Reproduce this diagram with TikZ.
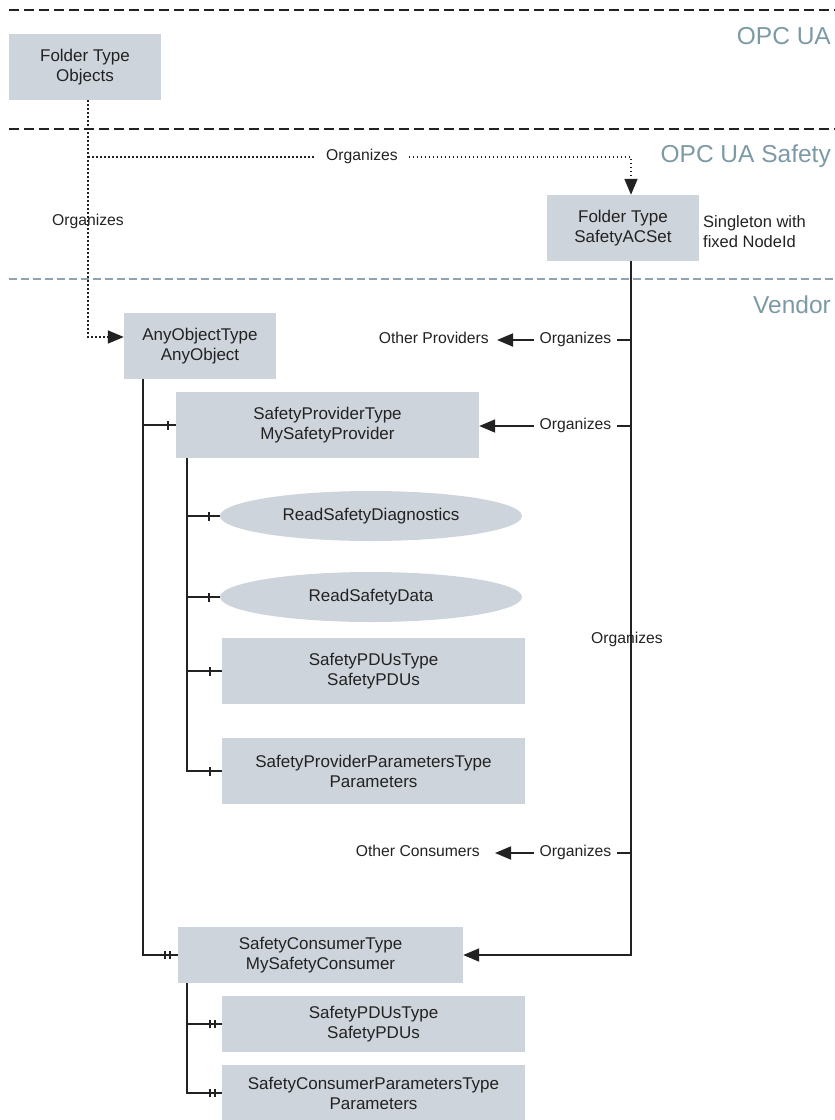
\documentclass[tikz,border=0pt]{standalone}
\usepackage{fontspec}
\setmainfont{Liberation Sans}
\usetikzlibrary{arrows.meta,decorations.markings,shapes.geometric}

\definecolor{boxfill}{HTML}{CED4DB}
\definecolor{layertext}{HTML}{7C9AA6}
\definecolor{vendorline}{HTML}{8FA4AE}
\definecolor{ink}{HTML}{222222}

\tikzset{
  box/.style={rectangle, fill=boxfill, inner sep=0pt, align=center, text=ink,
    font=\fontsize{17pt}{20pt}\selectfont},
  oval/.style={ellipse, fill=boxfill, inner sep=0pt, text=ink,
    minimum width=302pt, minimum height=50pt,
    font=\fontsize{17pt}{20pt}\selectfont},
  lbl/.style={text=ink, inner sep=0pt, text height=11pt, text depth=3.5pt,
    font=\fontsize{15.7pt}{19pt}\selectfont},
  layer/.style={text=layertext, anchor=base east, inner sep=0pt,
    font=\fontsize{24.5pt}{29pt}\selectfont},
  sepline/.style={line width=2pt, dash pattern=on 10pt off 5pt},
  tip/.style={-{Triangle[length=16pt,width=13pt]}},
  ref/.style={line width=1.8pt, draw=ink},
  dots/.style={line width=1.7pt, draw=ink, dash pattern=on 1.5pt off 2.5pt},
  onetick/.style={postaction={decorate}, decoration={markings,
    mark=at position #1 with {\draw[line width=1.6pt, ink] (0,-4.5pt) -- (0,4.5pt);}}},
  twotick/.style 2 args={postaction={decorate}, decoration={markings,
    mark=at position #1 with {\draw[line width=1.6pt, ink] (0,-4pt) -- (0,4pt);},
    mark=at position #2 with {\draw[line width=1.6pt, ink] (0,-4pt) -- (0,4pt);}}},
}

\begin{document}
\begin{tikzpicture}[x=1pt, y=-1pt]
  \useasboundingbox (0,0) rectangle (835,1120);

  % layer separators
  \draw[sepline, ink] (9,10) -- (835,10);
  \draw[sepline, ink] (9,129) -- (835,129);
  \draw[line width=2pt, dash pattern=on 8pt off 4pt, vendorline] (9,279) -- (835,279);

  % layer names
  \node[layer] (lyrua) at (831,44) {OPC UA};
  \node[layer] (lyrsafe) at (831,162) {OPC UA Safety};
  \node[layer] (lyrvend) at (831,313) {Vendor};

  % object nodes
  \node[box, minimum width=152pt, minimum height=66pt] (obj) at (85,67) {Folder Type\\Objects};
  \node[box, minimum width=152pt, minimum height=66pt] (acset) at (623,228) {Folder Type\\SafetyACSet};
  \node[anchor=west, align=left, inner sep=0pt, text=ink,
        font=\fontsize{16.5pt}{20pt}\selectfont] (single) at (703,232) {Singleton with\\fixed NodeId};
  \node[box, minimum width=152pt, minimum height=66pt] (any) at (200,346) {AnyObjectType\\AnyObject};
  \node[box, minimum width=303pt, minimum height=66pt] (prov) at (327.5,425) {SafetyProviderType\\MySafetyProvider};
  \node[oval] (rsd) at (371,516) {ReadSafetyDiagnostics};
  \node[oval] (rdata) at (371,597) {ReadSafetyData};
  \node[box, minimum width=303pt, minimum height=66pt] (pdua) at (373.5,671) {SafetyPDUsType\\SafetyPDUs};
  \node[box, minimum width=303pt, minimum height=66pt] (para) at (373.5,771) {SafetyProviderParametersType\\Parameters};
  \node[box, minimum width=285pt, minimum height=56pt] (cons) at (320.5,955) {SafetyConsumerType\\MySafetyConsumer};
  \node[box, minimum width=303pt, minimum height=56pt] (pdub) at (373.5,1024) {SafetyPDUsType\\SafetyPDUs};
  \node[box, minimum width=303pt, minimum height=56pt] (parb) at (373.5,1093) {SafetyConsumerParametersType\\Parameters};

  % reference labels
  \node[lbl] (ogleft) at (88,222) {Organizes};
  \node[lbl, inner xsep=11pt] (ogtop) at (362,157) {Organizes};
  \node[lbl, inner xsep=6pt] (ogprov) at (575.5,340) {Organizes};
  \node[lbl, inner xsep=6pt] (ogmine) at (575.5,426) {Organizes};
  \node[lbl] (ogright) at (627,640) {Organizes};
  \node[lbl, inner xsep=6pt] (ogcons) at (575.5,853) {Organizes};
  \node[lbl, anchor=east, inner xsep=8pt] (oprov) at (497,340) {Other Providers};
  \node[lbl, anchor=east, inner xsep=15pt] (ocons) at (495,853) {Other Consumers};

  % helper coordinates for the routing columns
  \coordinate (j1) at (88,157);
  \coordinate (j2) at (88,337);
  \coordinate (j3) at (631,157);
  \coordinate (rx) at (631,0);
  \coordinate (ax) at (143,0);
  \coordinate (px) at (187,0);

  % dotted Organizes references from the standard folder
  \draw[dots, tip] (obj.south -| j1) -- (j2) -- (j2 -| any.west);
  \draw[dots] (j1) -- (ogtop.west);
  \draw[dots, tip] (ogtop.east) -- (j3) -- (j3 |- acset.north);

  % Organizes references from SafetyACSet
  \draw[ref, tip] (acset.south -| rx) -- (rx |- cons.east) -- (cons.east);
  \draw[ref] (ogprov.east) -- (ogprov.east -| rx);
  \draw[ref, tip] (ogprov.west) -- (oprov.east);
  \draw[ref] (ogmine.east) -- (ogmine.east -| rx);
  \draw[ref, tip] (ogmine.west) -- (ogmine.west -| prov.east);
  \draw[ref] (ogcons.east) -- (ogcons.east -| rx);
  \draw[ref, tip] (ogcons.west) -- (ocons.east);

  % hierarchy below AnyObject
  \draw[ref, twotick={-13pt}{-8pt}] (any.south -| ax) -- (ax |- cons.west) -- (cons.west);
  \draw[ref, onetick=-8pt] (ax |- prov.west) -- (prov.west);

  % provider components
  \draw[ref, onetick=-12pt] (prov.south -| px) |- (para.west);
  \draw[ref, onetick=-11pt] (px |- rsd.west) -- (rsd.west);
  \draw[ref, onetick=-11pt] (px |- rdata.west) -- (rdata.west);
  \draw[ref, onetick=-12pt] (px |- pdua.west) -- (pdua.west);

  % consumer components
  \draw[ref, twotick={-12pt}{-7pt}] (cons.south -| px) |- (parb.west);
  \draw[ref, twotick={-12pt}{-7pt}] (px |- pdub.west) -- (pdub.west);
\end{tikzpicture}
\end{document}
